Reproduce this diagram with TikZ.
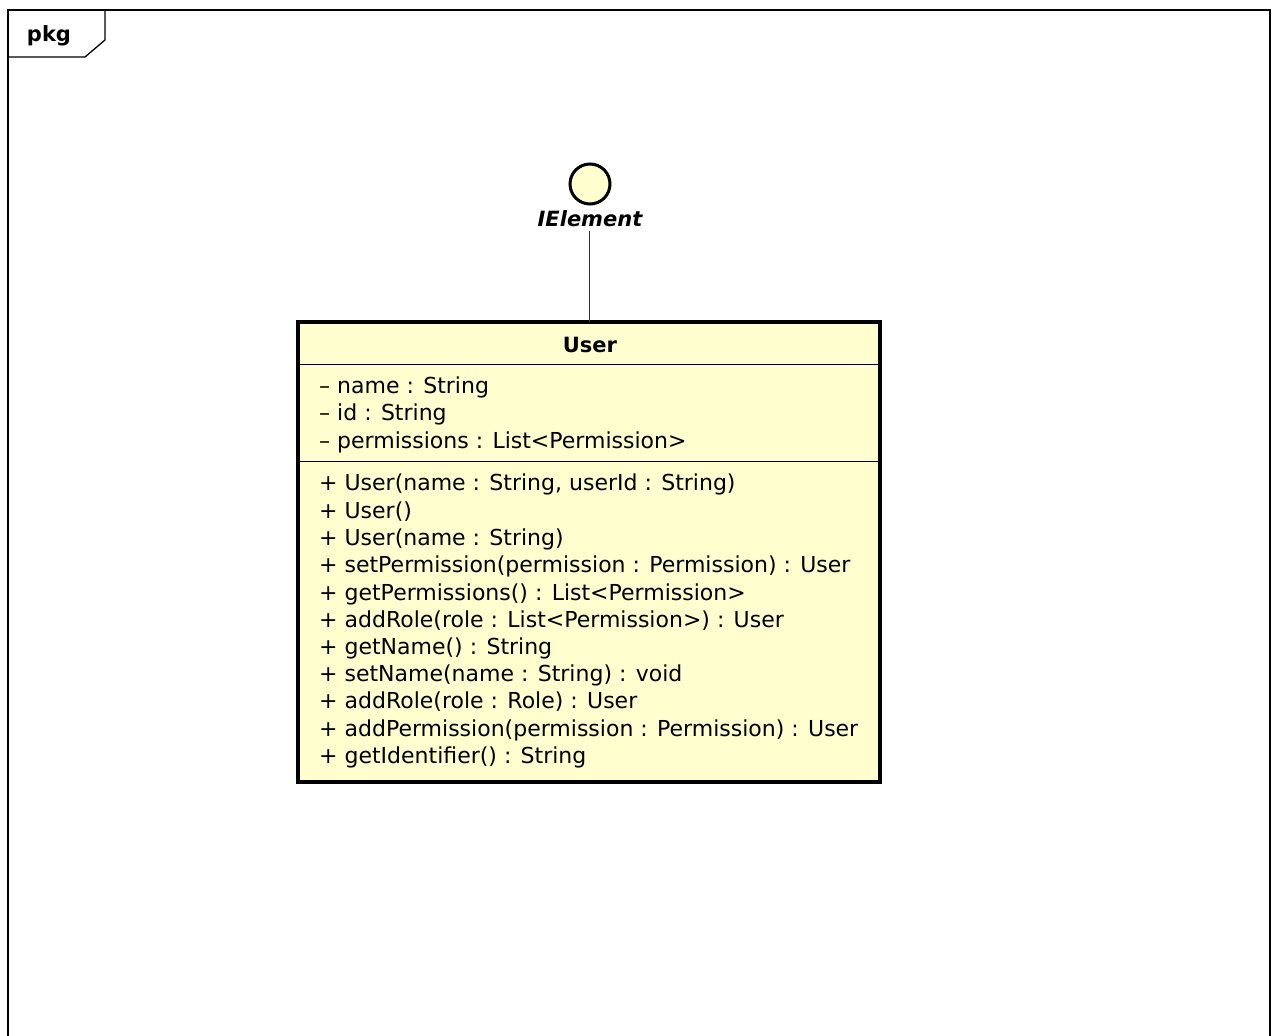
\documentclass[tikz,border=0pt]{standalone}
\usepackage{fontspec}
\setmainfont{DejaVu Sans}
\begin{document}
\begin{tikzpicture}[x=1pt,y=-1pt,
  umlfill/.style={fill=umlyellow},
  member/.style={anchor=west,inner sep=0pt,font=\fontsize{22}{26}\selectfont},
  frameline/.style={line width=1.3pt,draw=black}]
\definecolor{umlyellow}{HTML}{FEFECE}
\useasboundingbox (0,0) rectangle (1275,1036);
\fill[white] (0,0) rectangle (1275,1036);
% package frame, open at the bottom
\draw[frameline] (8,1036) -- (8,10) -- (1270,10) -- (1270,1036);
\draw[frameline] (105,10) -- (105,40) -- (85,57) -- (8,57);
\node[inner sep=0pt,font=\fontsize{21}{24}\selectfont\bfseries] (pkg) at (49,36) {pkg};
% interface lollipop
\node[circle,umlfill,draw=black,line width=3pt,minimum size=40pt,inner sep=0pt] (iface) at (590,184) {};
\node[inner sep=0pt,font=\fontsize{21}{24}\selectfont\bfseries\itshape] (ifname) at (590,219) {IElement};
% class box
\coordinate (boxtl) at (298,322);
\coordinate (boxbr) at (880,782);
\node[inner sep=0pt,minimum width=582pt,minimum height=460pt,anchor=north west,umlfill] (user) at (boxtl) {};
\draw[line width=1pt] (298,364) -- (880,364);
\draw[line width=1pt] (298,461) -- (880,461);
\draw[line width=3.5pt] (boxtl) rectangle (boxbr);
\draw[line width=1.2pt,black!80] (user.north |- 0,231) -- (user.north);
\node[inner sep=0pt,font=\fontsize{21}{24}\selectfont\bfseries] (uname) at (590,345) {User};
% attributes
\node[member] (a1) at (319,387) {– name : String};
\node[member] (a2) at (319,414) {– id : String};
\node[member] (a3) at (319,442) {– permissions : List<Permission>};
% operations
\node[member] (m1) at (319,484) {+ User(name : String, userId : String)};
\node[member] (m2) at (319,512) {+ User()};
\node[member] (m3) at (319,539) {+ User(name : String)};
\node[member] (m4) at (319,566) {+ setPermission(permission : Permission) : User};
\node[member] (m5) at (319,594) {+ getPermissions() : List<Permission>};
\node[member] (m6) at (319,621) {+ addRole(role : List<Permission>) : User};
\node[member] (m7) at (319,648) {+ getName() : String};
\node[member] (m8) at (319,675) {+ setName(name : String) : void};
\node[member] (m9) at (319,702) {+ addRole(role : Role) : User};
\node[member] (m10) at (319,730) {+ addPermission(permission : Permission) : User};
\node[member] (m11) at (319,757) {+ getIdentifier() : String};
\end{tikzpicture}
\end{document}
